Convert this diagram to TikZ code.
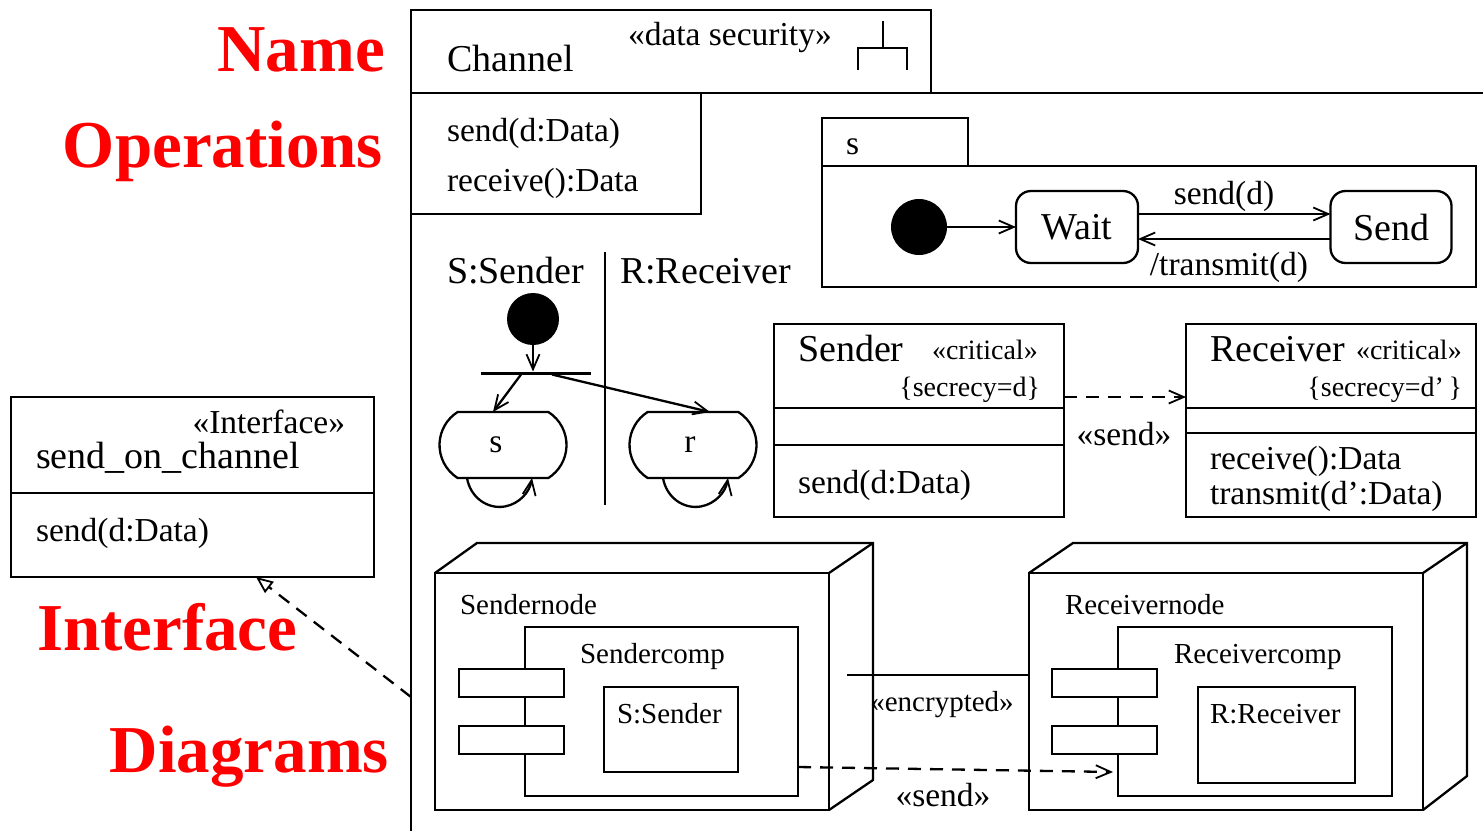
\documentclass[tikz,border=0pt]{standalone}
\usepackage{fontspec}
\setmainfont{Liberation Serif}
\usetikzlibrary{arrows.meta,calc,shapes.misc}

\tikzset{
  every node/.style={outer sep=0pt},
  ln/.style={line width=2.3pt},
  box/.style={draw, line width=2.3pt, inner sep=0pt, anchor=north west},
  big/.style={font=\fontsize{38}{40}\selectfont},
  mid/.style={font=\fontsize{33.5}{36}\selectfont},
  sml/.style={font=\fontsize{29}{31}\selectfont},
  crit/.style={font=\fontsize{28}{30}\selectfont},
  txt/.style={inner sep=0pt},
  lbl/.style={font=\fontsize{67}{70}\selectfont\bfseries, text=red, inner sep=0pt},
  open/.style={-{Straight Barb[length=15pt,width=13pt,line width=1.8pt]}},
  dsh/.style={dash pattern=on 13pt off 9pt},
  real/.style={-{Triangle[open,length=17pt,width=14pt,line width=1.8pt]}},
  action/.style={draw, ln, rounded rectangle, rounded rectangle arc length=115,
    minimum width=127, minimum height=66, inner sep=0pt},
  selfloop/.style={ln, open},
}

\begin{document}
\begin{tikzpicture}[x=1pt,y=-1pt]
\useasboundingbox (0,0) rectangle (1483,830);

% red captions
\node[lbl, anchor=base east] (lname)  at (385,71)  {Name};
\node[lbl, anchor=base east] (lops)   at (383,167) {Operations};
\node[lbl, anchor=base west] (liface) at (37,650)  {Interface};
\node[lbl, anchor=base east] (ldiag)  at (389,772) {Diagrams};

% subsystem frame: name and operation compartments
\node[box, minimum width=520, minimum height=83]  (chname) at (411,10) {};
\node[box, minimum width=290, minimum height=121] (chops)  at (411,93) {};
\draw[ln] (chname.south east) -- (1485,93);
\draw[ln] (chops.south west) -- (411,832);
\node[big, txt, anchor=base west] (chtitle) at (447,71) {Channel};
\node[mid, txt, anchor=base west] (chst) at (628,45) {«data security»};
\draw[ln] (883,21) -- (883,48) (858,70) -- (858,48) -- (907,48) -- (907,70);
\node[mid, txt, anchor=base west] (op1) at (447,141) {send(d:Data)};
\node[mid, txt, anchor=base west] (op2) at (447,191) {receive():Data};

% state machine of s
\node[box, minimum width=146, minimum height=48]  (smtab)  at (822,118) {};
\node[box, minimum width=654, minimum height=121] (smbody) at (822,166) {};
\node[mid, txt, anchor=base west] (smname) at (846,154) {s};
\node[circle, fill, minimum size=56, inner sep=0pt] (sminit) at (919,227) {};
\node[draw, ln, rounded corners=15, minimum width=122, minimum height=72, inner sep=0pt, big] (wait) at (1077,227) {Wait};
\node[draw, ln, rounded corners=15, minimum width=121, minimum height=72, inner sep=0pt, big] (send) at (1391,227) {Send};
\draw[ln, open] (sminit) -- (wait);
\draw[ln, open] ([yshift=13pt]wait.east) -- ([yshift=13pt]send.west);
\draw[ln, open] ([yshift=-12pt]send.west) -- ([yshift=-12pt]wait.east);
\node[mid, txt, anchor=base] (tsend) at (1224,204) {send(d)};
\node[mid, txt, anchor=base] (ttrans) at (1229,275) {/transmit(d)};

% activity diagram with two swimlanes
\node[big, txt, anchor=base west] (laneS) at (447,283) {S:Sender};
\node[big, txt, anchor=base west] (laneR) at (620,283) {R:Receiver};
\draw[ln] (605,252) -- (605,505);
\node[circle, fill, minimum size=52, inner sep=0pt] (ainit) at (533,319) {};
\node[fill, minimum width=110, minimum height=3, inner sep=0pt] (fork) at (536,373) {};
\node[action] (as) at (503,445) {};
\node[action] (ar) at (693,445) {};
\node[mid, txt] (aslbl) at (496,445) {s};
\node[mid, txt] (arlbl) at (690,445) {r};
\draw[ln, open] (ainit.south) -- (ainit.south |- fork.north);
\draw[ln, open] ([xshift=-15pt]fork.south) -- ([xshift=-10pt]as.north);
\draw[ln, open] ([xshift=16pt]fork.south) -- ([xshift=17pt]ar.north);
\draw[selfloop] ([xshift=-36pt]as.south) arc[start angle=170, end angle=10, x radius=33, y radius=35];
\draw[selfloop] ([xshift=-30pt]ar.south) arc[start angle=170, end angle=10, x radius=33, y radius=35];

% class diagram
\node[box, minimum width=290, minimum height=193] (scls) at (774,324) {};
\draw[ln] (774,408) -- (1064,408) (774,445) -- (1064,445);
\node[big, txt, anchor=base west] (sclsname) at (798,361) {Sender};
\node[crit, txt, anchor=base west] (sclsst) at (932,359) {«critical»};
\node[crit, txt, anchor=base east] (sclstag) at (1040,396) {\{secrecy=d\}};
\node[mid, txt, anchor=base west] (sclsop) at (798,493) {send(d:Data)};

\node[box, minimum width=290, minimum height=193] (rcls) at (1186,324) {};
\draw[ln] (1186,408) -- (1476,408) (1186,433) -- (1476,433);
\node[big, txt, anchor=base west] (rclsname) at (1210,361) {Receiver};
\node[crit, txt, anchor=base west] (rclsst) at (1356,359) {«critical»};
\node[crit, txt, anchor=base east] (rclstag) at (1462,396) {\{secrecy=d’\,\}};
\node[mid, txt, anchor=base west] (rclsop1) at (1210,469) {receive():Data};
\node[mid, txt, anchor=base west] (rclsop2) at (1210,504) {transmit(d’:Data)};

\draw[ln, dsh, open] ([yshift=23.5pt]scls.east) -- ([yshift=23.5pt]rcls.west);
\node[mid, txt, anchor=base] (clsdep) at (1124,445) {«send»};

% deployment diagram
\node[box, minimum width=394, minimum height=237] (snode) at (435,573) {};
\draw[ln] (snode.north west) -- ++(42,-30) -- ++(396,0) -- ++(0,237) -- (snode.south east);
\draw[ln] (snode.north east) -- ++(44,-30);
\node[sml, txt, anchor=base west] (snodename) at (460,614) {Sendernode};
\node[box, minimum width=273, minimum height=169] (scomp) at (525,627) {};
\node[box, fill=white, minimum width=105, minimum height=28] (scport1) at (459,669) {};
\node[box, fill=white, minimum width=105, minimum height=28] (scport2) at (459,726) {};
\node[sml, txt, anchor=base west] (scompname) at (580,663) {Sendercomp};
\node[box, minimum width=134, minimum height=85] (sinst) at (604,687) {};
\node[sml, txt, anchor=base west] (sinstname) at (617,723) {S:Sender};

\node[box, minimum width=394, minimum height=237] (rnode) at (1029,573) {};
\draw[ln] (rnode.north west) -- ++(44,-30) -- ++(394,0) -- ++(0,233) -- (rnode.south east);
\draw[ln] (rnode.north east) -- ++(44,-30);
\node[sml, txt, anchor=base west] (rnodename) at (1065,614) {Receivernode};
\node[box, minimum width=274, minimum height=169] (rcomp) at (1118,627) {};
\node[box, fill=white, minimum width=105, minimum height=28] (rcport1) at (1052,669) {};
\node[box, fill=white, minimum width=105, minimum height=28] (rcport2) at (1052,726) {};
\node[sml, txt, anchor=base west] (rcompname) at (1174,663) {Receivercomp};
\node[box, minimum width=157, minimum height=96] (rinst) at (1198,687) {};
\node[sml, txt, anchor=base west] (rinstname) at (1210,723) {R:Receiver};

\coordinate (encstart) at (847,675);
\draw[ln] (encstart) -- ([yshift=16.5pt]rnode.west);
\node[sml, txt, anchor=base] (enclbl) at (942,711) {«encrypted»};
\draw[ln, dsh, open] ([yshift=-55.5pt]scomp.east) -- ([yshift=-60.5pt,xshift=-5pt]rcomp.west);
\node[mid, txt, anchor=base] (deplbl) at (943,806) {«send»};

% interface
\node[box, minimum width=363, minimum height=180] (iface) at (11,397) {};
\draw[ln] (11,493) -- (374,493);
\node[mid, txt, anchor=base east] (ifacest) at (345,433) {«Interface»};
\node[big, txt, anchor=base west] (ifacename) at (36,468) {send\_on\_channel};
\node[mid, txt, anchor=base west] (ifaceop) at (36,541) {send(d:Data)};

\coordinate (realstart) at (411,697);
\draw[ln, dsh, real] (realstart) -- ([xshift=63.5pt]iface.south);
\end{tikzpicture}
\end{document}
